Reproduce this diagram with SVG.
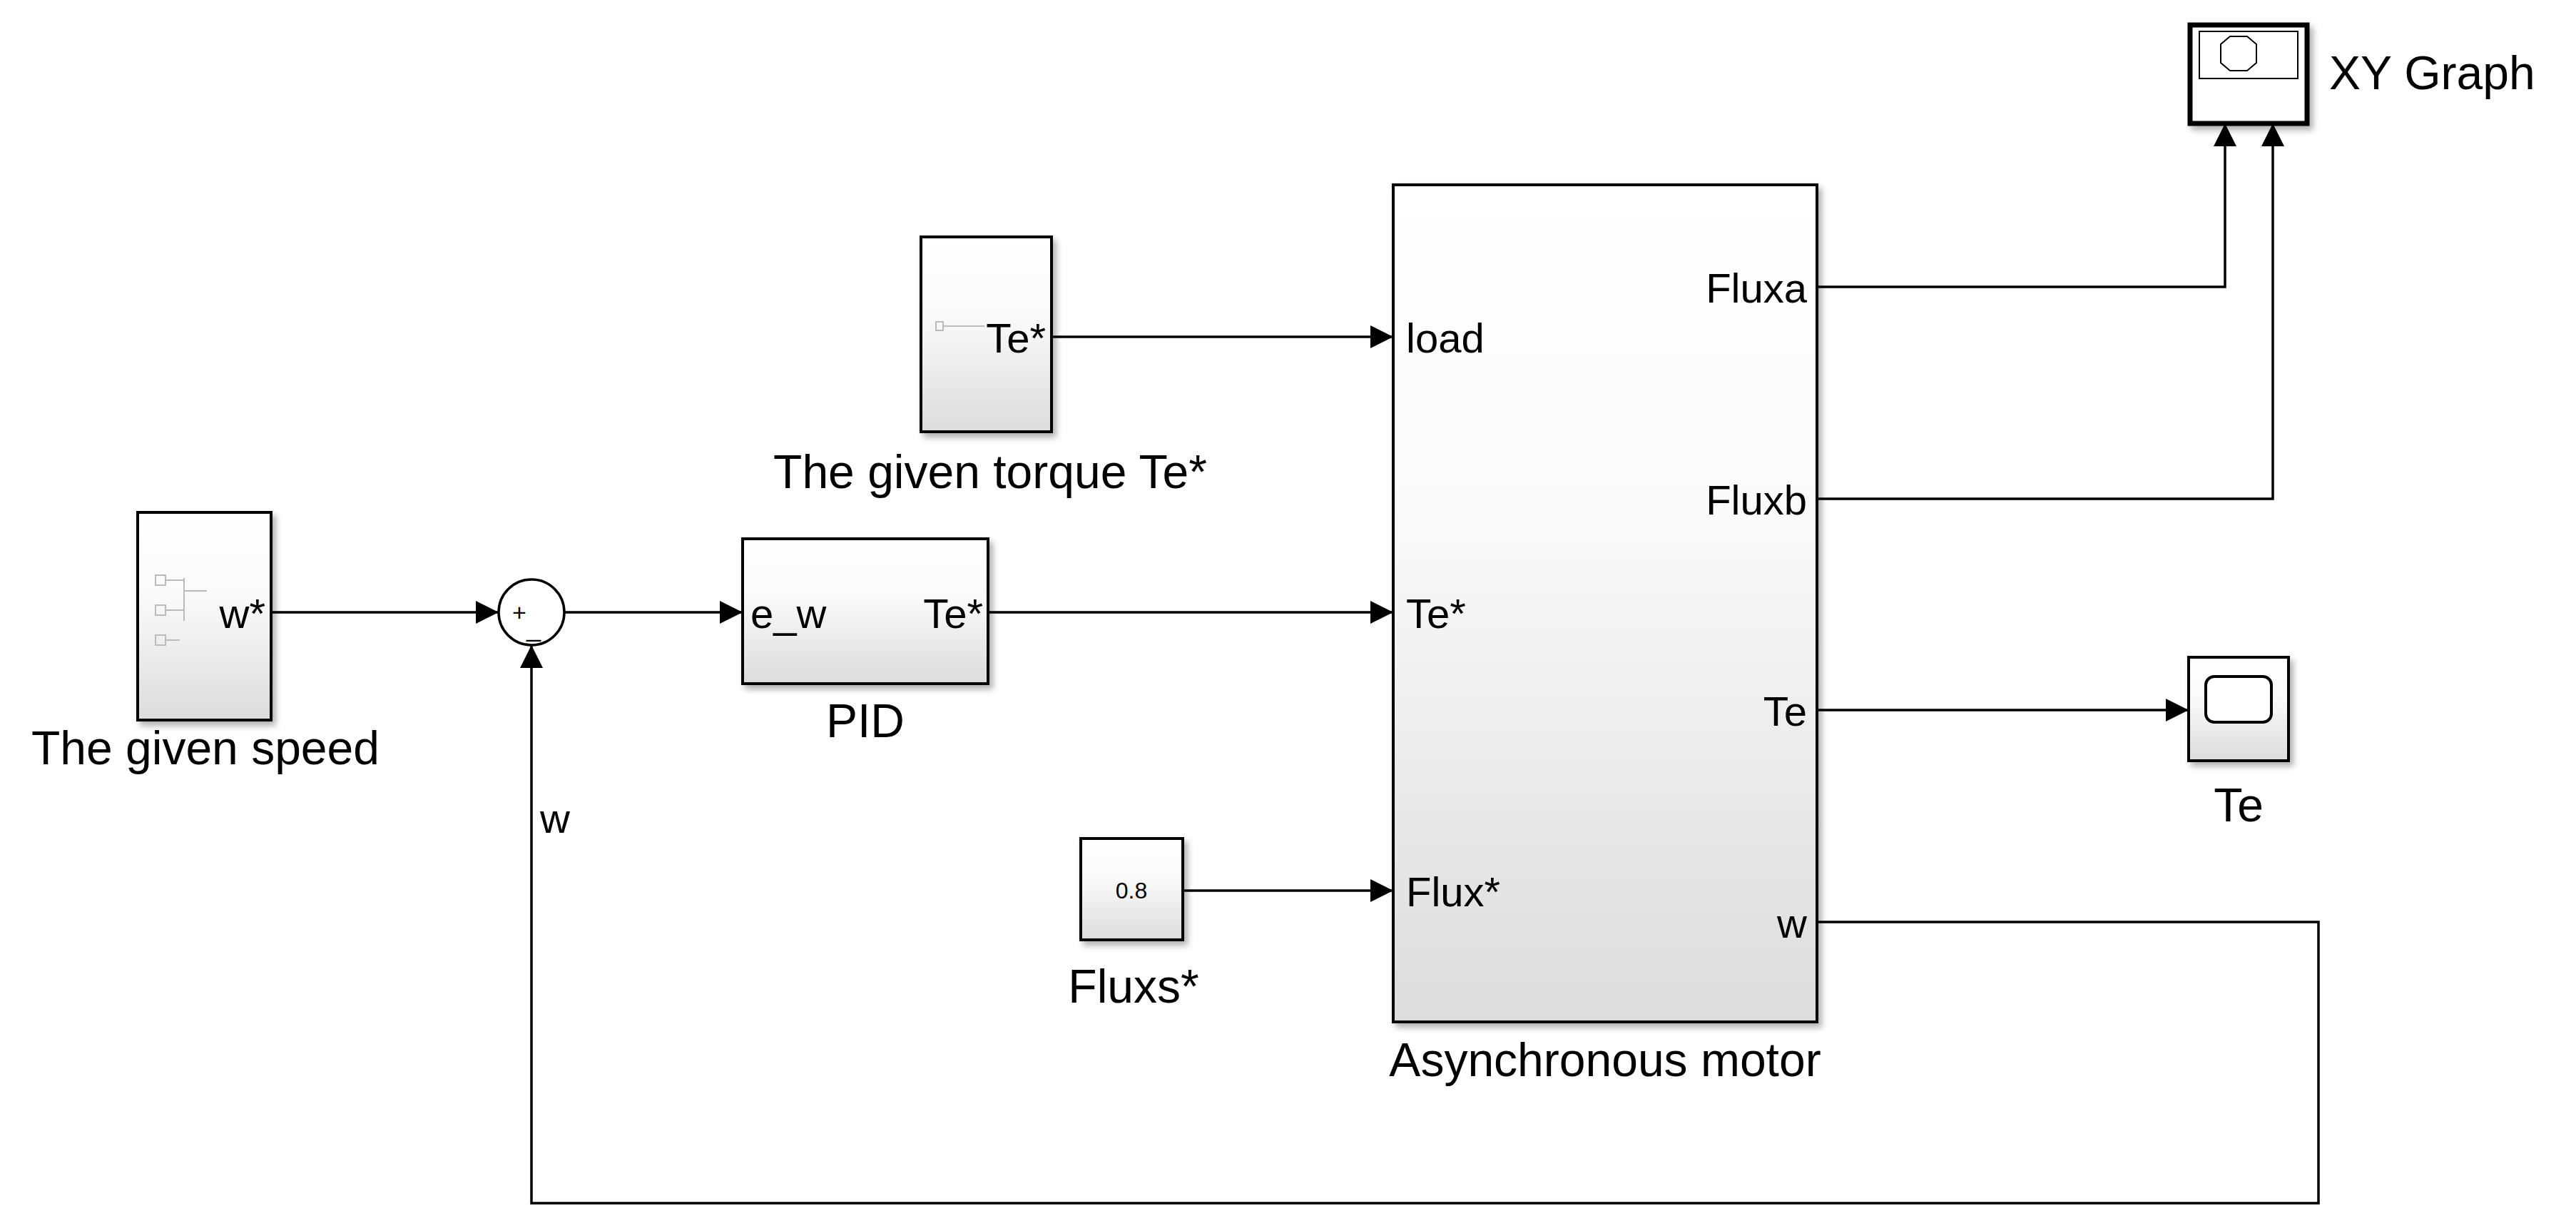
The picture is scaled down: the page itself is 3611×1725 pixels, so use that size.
<svg xmlns="http://www.w3.org/2000/svg" width="3611" height="1725" viewBox="0 0 3611 1725">
<defs>
<linearGradient id="g" x1="0" y1="0" x2="0" y2="1"><stop offset="0" stop-color="#ffffff"/><stop offset="0.4" stop-color="#fafafa"/><stop offset="1" stop-color="#dcdcdc"/></linearGradient>
<filter id="sh" x="-10%" y="-10%" width="130%" height="130%"><feDropShadow dx="5" dy="6" stdDeviation="4" flood-color="#000" flood-opacity="0.3"/></filter>
<marker id="a" viewBox="0 0 10 10" refX="10" refY="5" markerWidth="32" markerHeight="32" markerUnits="userSpaceOnUse" orient="auto"><path d="M0,0 L10,5 L0,10 z" fill="#000"/></marker>
</defs>
<style>
.blk{fill:url(#g);stroke:#000;stroke-width:4;filter:url(#sh)}
.t{font-family:"Liberation Sans",Arial,sans-serif;fill:#000}
.n{font-size:66px}
.p{font-size:58px}
.w{fill:none;stroke:#000;stroke-width:3.5}
.ic{fill:none;stroke:#bbb;stroke-width:2}
</style>
<rect width="3611" height="1725" fill="#fff"/>
<g id="speed">
<rect class="blk" x="193" y="718" width="187" height="291"/>
<rect class="ic" x="218" y="806" width="14" height="14"/><rect class="ic" x="218" y="848" width="14" height="14"/><rect class="ic" x="218" y="890" width="14" height="14"/>
<path class="ic" d="M232,813 H258 M232,855 H258 M232,897 H252 M258,810 V870 M258,828 H290"/>
<text class="t p" x="372" y="880" text-anchor="end">w*</text>
<text class="t n" x="288" y="1071" text-anchor="middle">The given speed</text>
</g>
<g id="sum">
<circle cx="745" cy="858" r="46" fill="#fff" stroke="#000" stroke-width="3.5"/>
<text class="t" x="718" y="870" font-size="34">+</text>
<text class="t" x="738" y="892" font-size="36">_</text>
</g>
<g id="pid">
<rect class="blk" x="1041" y="755" width="344" height="203"/>
<text class="t p" x="1052" y="880">e_w</text>
<text class="t p" x="1378" y="880" text-anchor="end">Te*</text>
<text class="t n" x="1213" y="1033" text-anchor="middle">PID</text>
</g>
<g id="torque">
<rect class="blk" x="1291" y="332" width="183" height="273"/>
<rect class="ic" x="1312" y="451" width="10" height="12"/><path class="ic" d="M1322,457 H1380"/>
<text class="t p" x="1466" y="494" text-anchor="end">Te*</text>
<text class="t n" x="1388" y="684" text-anchor="middle">The given torque Te*</text>
</g>
<g id="const">
<rect class="blk" x="1515" y="1175" width="143" height="142"/>
<text class="t" x="1586" y="1259" font-size="32" text-anchor="middle">0.8</text>
<text class="t n" x="1589" y="1405" text-anchor="middle">Fluxs*</text>
</g>
<g id="motor">
<rect class="blk" x="1953" y="259" width="594" height="1173"/>
<text class="t p" x="1971" y="494">load</text>
<text class="t p" x="1971" y="880">Te*</text>
<text class="t p" x="1971" y="1270">Flux*</text>
<text class="t p" x="2533" y="424" text-anchor="end">Fluxa</text>
<text class="t p" x="2533" y="721" text-anchor="end">Fluxb</text>
<text class="t p" x="2533" y="1017" text-anchor="end">Te</text>
<text class="t p" x="2533" y="1314" text-anchor="end">w</text>
<text class="t n" x="2250" y="1508" text-anchor="middle">Asynchronous motor</text>
</g>
<g id="xy">
<rect x="3070" y="35" width="164" height="138" fill="#fff" stroke="#000" stroke-width="7" filter="url(#sh)"/>
<rect x="3083" y="44" width="138" height="66" fill="#fff" stroke="#000" stroke-width="2"/>
<polygon points="3126,51 3150,51 3163,62 3163,88 3150,99 3126,99 3113,88 3113,62" fill="none" stroke="#000" stroke-width="2"/>
<text class="t n" x="3265" y="125">XY Graph</text>
</g>
<g id="scope">
<rect x="3068" y="921" width="140" height="145" fill="url(#g)" stroke="#000" stroke-width="4" filter="url(#sh)"/>
<rect x="3092" y="948" width="92" height="64" rx="12" fill="#fff" stroke="#000" stroke-width="4"/>
<text class="t n" x="3138" y="1151" text-anchor="middle">Te</text>
</g>
<g id="connectors">
<path class="w" d="M380,858 H699" marker-end="url(#a)"/>
<path class="w" d="M791,858 H1041" marker-end="url(#a)"/>
<path class="w" d="M1385,858 H1953" marker-end="url(#a)"/>
<path class="w" d="M1474,472 H1953" marker-end="url(#a)"/>
<path class="w" d="M1658,1248 H1953" marker-end="url(#a)"/>
<path class="w" d="M2547,402 H3119 V173" marker-end="url(#a)"/>
<path class="w" d="M2547,699 H3186 V173" marker-end="url(#a)"/>
<path class="w" d="M2547,995 H3068" marker-end="url(#a)"/>
<path class="w" d="M2547,1292 H3250 V1686 H745 V904" marker-end="url(#a)"/>
<text class="t p" x="757" y="1167">w</text>
</g>
</svg>
